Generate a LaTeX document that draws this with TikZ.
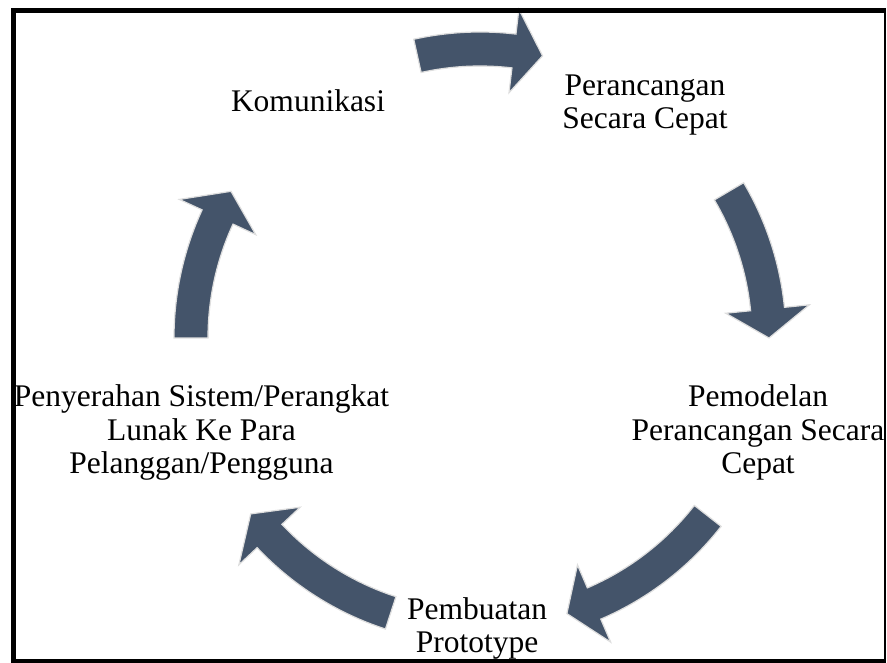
\documentclass[tikz,border=0pt]{standalone}
\usepackage{fontspec}
\setmainfont{Liberation Serif}
\definecolor{arrowblue}{RGB}{68,84,106}
\definecolor{glowgray}{RGB}{222,222,222}
\newcommand{\cycarrow}[2]{%
  \pgfmathsetmacro{\cyab}{#2+5.75}%
  \filldraw[cyclearrow] (#1:306) arc[start angle=#1, end angle=\cyab, radius=306]
    -- (\cyab:331) -- (#2:289) -- (\cyab:247) -- (\cyab:272)
    arc[start angle=\cyab, end angle=#1, radius=272] -- cycle;}
\begin{document}
\begin{tikzpicture}[x=1pt,y=1pt,
  cyclearrow/.style={fill=arrowblue, draw=glowgray, line width=1.2pt, line join=miter},
  steptext/.style={font=\fontsize{31.5}{33.5}\selectfont, align=center, anchor=base, inner sep=0pt, text=black},
  frameline/.style={fill=black}]
\useasboundingbox (0,0) rectangle (887,663);
\fill[white] (0,0) rectangle (887,663);
% cycle arrows around centre (480,325)
\begin{scope}[shift={(480,325)}]
  \cycarrow{102.5}{77.5}
  \cycarrow{30.5}{0}
  \cycarrow{-38}{-72.5}
  \cycarrow{-108}{-142.5}
  \cycarrow{180}{149.5}
\end{scope}
% step texts
\node[steptext] (kom) at (308,551.3) {Komunikasi};
\node[steptext] (per) at (645,534) {Perancangan\\Secara Cepat};
\node[steptext] (pem) at (758,189.3) {Pemodelan\\Perancangan Secara\\Cepat};
\node[steptext] (pro) at (477,10) {Pembuatan\\Prototype};
\node[steptext] (pen) at (201.5,189.3) {Penyerahan Sistem/Perangkat\\Lunak Ke Para\\Pelanggan/Pengguna};
% frame
\fill[frameline] (11,650) rectangle (886,655);
\fill[frameline] (11,0) rectangle (16,655);
\fill[frameline] (884.3,0) rectangle (886,655);
\fill[frameline] (11,0) rectangle (886,3.5);
\end{tikzpicture}
\end{document}
